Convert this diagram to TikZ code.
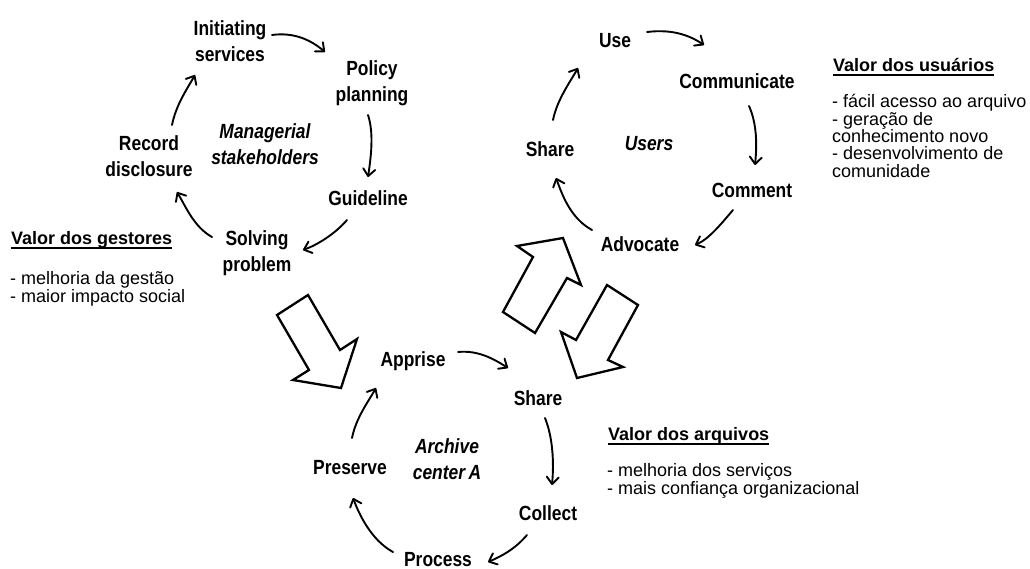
\documentclass[tikz,border=0pt]{standalone}
\usepackage{fontspec}
\setmainfont{Liberation Sans}
\newfontfamily\lblfont{Liberation Sans}[FakeStretch=0.85]
\usetikzlibrary{arrows.meta}
\begin{document}
\begin{tikzpicture}[x=1pt,y=-1pt,
  lbl/.style={font=\lblfont\bfseries\fontsize{20.5}{26.5}\selectfont,
              align=center, inner sep=0pt, anchor=north},
  ital/.style={lbl, font=\lblfont\bfseries\itshape\fontsize{20.5}{26.5}\selectfont},
  cyc/.style={line width=1.9pt, line cap=round,
              -{Straight Barb[length=7pt,width=12pt,round]}},
  blk/.style={draw=black, fill=white, line width=2.3pt, line join=miter},
  hdr/.style={font=\bfseries\fontsize{18}{17.3}\selectfont, inner sep=0pt, anchor=base west},
  lst/.style={font=\fontsize{18}{17.3}\selectfont, inner sep=0pt, anchor=north west, align=left},
  uline/.style={line width=1.4pt}
]
\fill[white] (0,0) rectangle (1030,569);
\useasboundingbox (0,0) rectangle (1030,569);

% ---------- managerial cycle ----------
\node[lbl]  (ini) at (230,20)  {Initiating\\services};
\node[lbl]  (pol) at (372,60)  {Policy\\planning};
\node[ital] (man) at (265,123) {Managerial\\stakeholders};
\node[lbl]  (rec) at (149,135) {Record\\disclosure};
\node[lbl]  (gui) at (368,190) {Guideline};
\node[lbl]  (sol) at (257,230) {Solving\\problem};

\draw[cyc] ([shift={(42,15)}]ini.north) .. controls +(22,-3) and +(-14,-12) .. ([shift={(-47,-8)}]pol.north);
\draw[cyc] ([shift={(-4,55)}]pol.north) .. controls +(6,18) and +(3,-20) .. ([shift={(0,-13)}]gui.north);
\draw[cyc] ([shift={(-21,30)}]gui.north) .. controls +(-12,14) and +(14,-5) .. ([shift={(46,20)}]sol.north);
\draw[cyc] ([shift={(-45,7)}]sol.north) .. controls +(-18,-10) and +(9,15) .. ([shift={(28,57)}]rec.north);
\draw[cyc] ([shift={(23,-10)}]rec.north) .. controls +(4,-20) and +(-8,14) .. ([shift={(-35,55)}]ini.north);

% ---------- users cycle ----------
\node[lbl]  (use) at (615,33)  {Use};
\node[lbl]  (com) at (737,73)  {Communicate};
\node[lbl]  (shr) at (550,141) {Share};
\node[ital] (usr) at (649,136) {Users};
\node[lbl]  (cmt) at (752,183) {Comment};
\node[lbl]  (adv) at (640,236) {Advocate};

\draw[cyc] ([shift={(32,-1)}]use.north) .. controls +(25,-3) and +(-15,-10) .. ([shift={(-33,-28)}]com.north);
\draw[cyc] ([shift={(12,33)}]com.north) .. controls +(8,18) and +(2,-20) .. ([shift={(3,-18)}]cmt.north);
\draw[cyc] ([shift={(-19,27)}]cmt.north) .. controls +(-12,14) and +(14,-6) .. ([shift={(55,9)}]adv.north);
\draw[cyc] ([shift={(-48,-6)}]adv.north) .. controls +(-22,-12) and +(6,16) .. ([shift={(6,37)}]shr.north);
\draw[cyc] ([shift={(3,-21)}]shr.north) .. controls +(4,-20) and +(-8,14) .. ([shift={(-37,35)}]use.north);

% ---------- archive cycle ----------
\node[lbl]  (app) at (413,351) {Apprise};
\node[lbl]  (shb) at (538,390) {Share};
\node[ital] (arc) at (447,438) {Archive\\center\,A};
\node[lbl]  (pre) at (350,460) {Preserve};
\node[lbl]  (col) at (548,505) {Collect};
\node[lbl]  (pro) at (438,552) {Process};

\draw[cyc] ([shift={(45,1)}]app.north) .. controls +(20,-2) and +(-14,-9) .. ([shift={(-30,-22)}]shb.north);
\draw[cyc] ([shift={(7,28)}]shb.north) .. controls +(8,20) and +(2,-22) .. ([shift={(4,-20)}]col.north);
\draw[cyc] ([shift={(-21,30)}]col.north) .. controls +(-12,14) and +(14,-6) .. ([shift={(50,10)}]pro.north);
\draw[cyc] ([shift={(-45,0)}]pro.north) .. controls +(-22,-12) and +(6,16) .. ([shift={(3,38)}]pre.north);
\draw[cyc] ([shift={(2,-22)}]pre.north) .. controls +(4,-20) and +(-8,14) .. ([shift={(-37,37)}]app.north);

% ---------- block arrows between the cycles ----------
\draw[blk] (308,295) -- (277,315) -- (309,370) -- (293,380) -- (341,388) -- (357,339) -- (340,350) -- cycle;
\draw[blk] (563,238) -- (517,246) -- (533,257) -- (503,312) -- (535,333) -- (567,278) -- (581,285) -- cycle;
\draw[blk] (607,285) -- (638,305) -- (608,360) -- (623,367) -- (577,378) -- (561,332) -- (576,340) -- cycle;

% ---------- value statements ----------
\node[hdr] (hg) at (11,244.5) {Valor dos gestores};
\draw[uline] ([yshift=-3.5pt]hg.base west) -- ([yshift=-3.5pt]hg.base east);
\node[lst] (lg) at (10,271.5) {- melhoria da gestão\\- maior impacto social};

\node[hdr] (hu) at (833,71.5) {Valor dos usuários};
\draw[uline] ([yshift=-3.5pt]hu.base west) -- ([yshift=-3.5pt]hu.base east);
\node[lst] (lu) at (832,94.5) {- fácil acesso ao arquivo\\- geração de\\conhecimento novo\\- desenvolvimento de\\comunidade};

\node[hdr] (ha) at (608,440.5) {Valor dos arquivos};
\draw[uline] ([yshift=-3.5pt]ha.base west) -- ([yshift=-3.5pt]ha.base east);
\node[lst] (la) at (607,463.5) {- melhoria dos serviços\\- mais confiança organizacional};
\end{tikzpicture}
\end{document}
